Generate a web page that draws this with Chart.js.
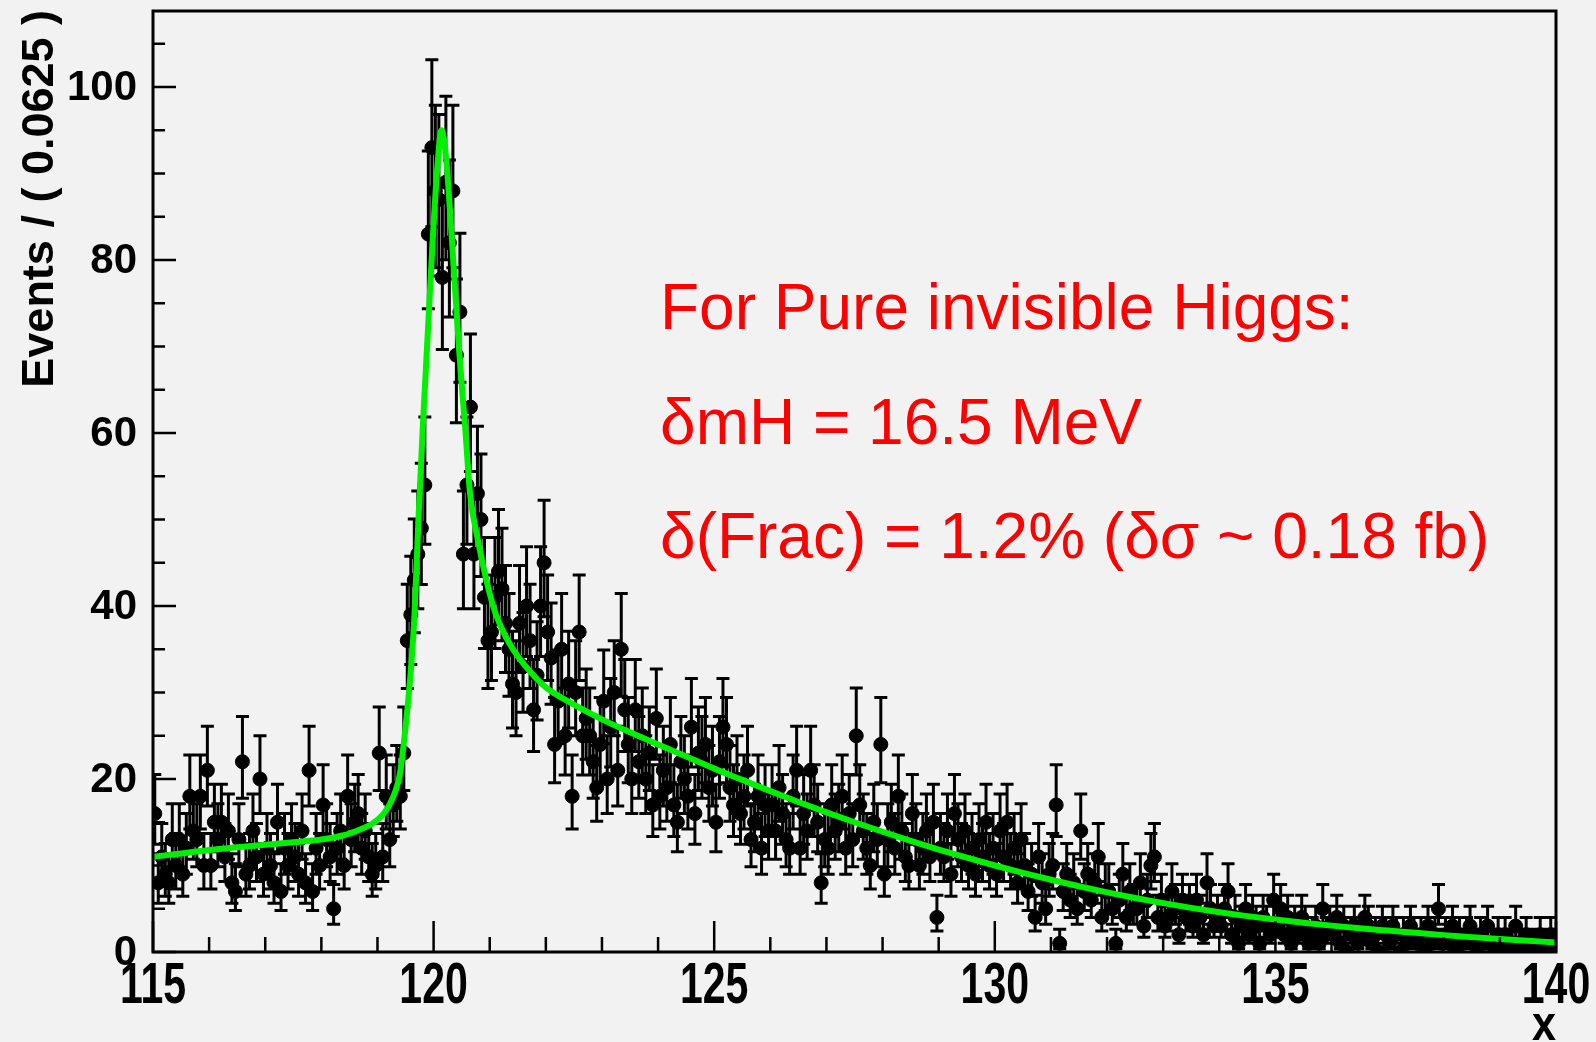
<!DOCTYPE html>
<html lang="en">
<head>
<meta charset="UTF-8">
<title>Events / ( 0.0625 ) vs x</title>
<script src="https://cdn.jsdelivr.net/npm/chart.js"></script>
<style>
  body { margin: 0; background: #f2f2f2; overflow: hidden; }
  canvas { display: block; }
</style>
</head>
<body>
<canvas id="plot" width="1596" height="1042"></canvas>
<script>
// axis ranges
const xMin = 115, xMax = 140;
const yMin = 0, yMax = 108.8;
const binWidth = 0.0625;

// events per bin, 400 bins from 115 to 140
const counts = [
  // 115-116
  16, 8, 11, 9, 8, 13, 10, 13, 9, 12, 18, 14, 13, 18, 10, 21,
  // 116-117
  10, 15, 13, 15, 11, 14, 8, 7, 13, 22, 9, 10, 14, 11, 20, 9,
  // 117-118
  12, 10, 8, 15, 7, 12, 10, 13, 11, 9, 14, 8, 21, 7, 12, 10,
  // 118-119
  17, 13, 11, 5, 12, 14, 10, 18, 13, 15, 16, 12, 14, 11, 9, 10,
  // 119-120
  23, 11, 18, 13, 17, 19, 18, 23, 36, 39, 43, 46, 49, 54, 83, 93,
  // 120-121
  88, 87, 78, 89, 82, 88, 69, 74, 46, 54, 63, 46, 53, 50, 41, 36,
  // 121-122
  37, 41, 44, 42, 38, 35, 31, 30, 38, 33, 40, 36, 28, 32, 40, 45,
  // 122-123
  37, 34, 24, 29, 35, 25, 31, 18, 30, 37, 25, 27, 25, 22, 19, 24,
  // 123-124
  29, 20, 26, 30, 21, 35, 28, 24, 20, 28, 22, 25, 20, 23, 17, 27,
  // 124-125
  18, 21, 19, 24, 17, 15, 22, 20, 18, 26, 16, 23, 22, 24, 19, 21,
  // 125-126
  15, 22, 26, 24, 19, 17, 20, 16, 18, 21, 13, 15, 18, 12, 17, 14,
  // 126-127
  17, 14, 19, 16, 13, 12, 18, 21, 12, 16, 14, 21, 17, 15, 8, 13,
  // 127-128
  12, 17, 14, 15, 18, 12, 16, 13, 25, 17, 14, 12, 10, 15, 13, 24,
  // 128-129
  9, 13, 15, 12, 18, 14, 11, 10, 16, 13, 10, 12, 14, 11, 15, 4,
  // 129-130
  12, 11, 14, 9, 16, 13, 11, 14, 10, 12, 9, 13, 11, 15, 10, 12,
  // 130-131
  9, 14, 11, 15, 10, 12, 8, 13, 10, 7, 9, 4, 11, 8, 5, 9,
  // 131-132
  10, 17, 1, 7, 9, 6, 8, 5, 14, 7, 9, 6, 8, 11, 4, 7,
  // 132-133
  7, 5, 1, 6, 9, 4, 7, 5, 5, 8, 3, 6, 10, 11, 4, 6,
  // 133-134
  3, 4, 7, 5, 2, 6, 4, 5, 3, 6, 4, 2, 8, 5, 3, 4,
  // 134-135
  3, 5, 7, 2, 4, 1, 3, 5, 2, 4, 3, 1, 4, 3, 2, 6,
  // 135-136
  3, 5, 2, 4, 1, 3, 2, 4, 3, 1, 2, 3, 1, 5, 2, 3,
  // 136-137
  2, 4, 1, 3, 0, 2, 3, 1, 2, 4, 3, 1, 2, 0, 3, 2,
  // 137-138
  1, 3, 2, 0, 2, 1, 3, 2, 1, 2, 0, 3, 1, 2, 5, 1,
  // 138-139
  2, 1, 3, 0, 2, 1, 2, 3, 1, 0, 2, 1, 3, 1, 0, 2,
  // 139-140
  1, 2, 0, 1, 3, 1, 0, 2, 1, 1, 0, 2, 1, 0, 2, 1
];

// fitted curve
const fitX = [115, 115.5, 116, 116.5, 117, 117.5, 118, 118.4, 118.7, 118.9, 119.1, 119.25, 119.4, 119.5, 119.6,
  119.66, 119.73, 119.81, 119.9, 119.99, 120.07, 120.14, 120.22, 120.32, 120.45, 120.57, 120.65, 120.79,
  121.06, 121.2, 121.35, 121.5, 121.75, 122, 122.5, 123, 123.5, 124, 124.5, 125, 125.5, 126, 126.5, 127,
  127.5, 128, 128.5, 129, 129.5, 130, 130.5, 131, 131.5, 132, 132.5, 133, 133.5, 134, 134.5, 135, 135.5,
  136, 136.5, 137, 137.5, 138, 138.5, 139, 139.5, 140];
const fitY = [11.0, 11.4, 11.8, 12.1, 12.4, 12.7, 13.0, 13.5, 14.2, 14.8, 15.9, 17.5, 20.6, 26, 33,
  39, 50, 61, 72, 83, 91, 95, 92, 83, 70, 60, 53, 47.6,
  40, 37.6, 35.7, 34.2, 32.2, 30.6, 28.6, 26.9, 25.4, 24.0, 22.6, 21.2, 19.9, 18.6, 17.35, 16.15,
  15.0, 13.9, 12.85, 11.85, 10.9, 10.0, 9.15, 8.35, 7.6, 6.9, 6.25, 5.65, 5.1, 4.6, 4.15, 3.75, 3.38,
  3.05, 2.75, 2.48, 2.22, 1.95, 1.72, 1.5, 1.3, 1.1];

// axis ticks and labels
const xMajorTicks = [115, 120, 125, 130, 135, 140];
const xTickLabels = ['115', '120', '125', '130', '135', '140'];
const xMinorTicks = [116, 117, 118, 119, 121, 122, 123, 124, 126, 127, 128, 129,
  131, 132, 133, 134, 136, 137, 138, 139];
const yMajorTicks = [0, 20, 40, 60, 80, 100];
const yTickLabels = ['0', '20', '40', '60', '80', '100'];
const yMinorTicks = [5, 10, 15, 25, 30, 35, 45, 50, 55, 65, 70, 75, 85, 90, 95, 105];

const yTitle = 'Events / ( 0.0625 )';
const xTitle = 'x';
const noteLines = ['For Pure invisible Higgs:', 'δmH = 16.5 MeV', 'δ(Frac) = 1.2% (δσ ~ 0.18 fb)'];

const binCenters = counts.map((c, i) => xMin + binWidth * (i + 0.5));
// approximate poisson intervals for the error bars
const errLow = counts.map(n => Math.max(0, n - Math.sqrt(n + 0.25) + 0.5));
const errHigh = counts.map(n => n + Math.sqrt(n + 0.25) + 0.5);

const FONT = '"Liberation Sans", Arial, Helvetica, sans-serif';
const capHalf = 6.5;

const rootStyle = {
    id: 'rootStyle',
    beforeDatasetsDraw(chart) {
        const { ctx, chartArea: a, scales: { x, y } } = chart;
        ctx.save();
        ctx.beginPath();
        ctx.rect(a.left, a.top - 2, a.right - a.left, a.bottom - a.top + 2);
        ctx.clip();
        ctx.strokeStyle = '#000';
        ctx.lineWidth = 3;
        ctx.beginPath();
        counts.forEach((n, i) => {
            const px = x.getPixelForValue(binCenters[i]);
            const lo = y.getPixelForValue(errLow[i]);
            const hi = y.getPixelForValue(errHigh[i]);
            ctx.moveTo(px, lo); ctx.lineTo(px, hi);
            ctx.moveTo(px - capHalf, lo); ctx.lineTo(px + capHalf, lo);
            ctx.moveTo(px - capHalf, hi); ctx.lineTo(px + capHalf, hi);
        });
        ctx.stroke();
        ctx.restore();
    },
    afterDraw(chart) {
        const { ctx, chartArea: a, scales: { x, y } } = chart;
        ctx.save();
        // frame
        ctx.strokeStyle = '#000';
        ctx.lineWidth = 3;
        ctx.strokeRect(a.left, a.top, a.right - a.left, a.bottom - a.top);

        // ticks inside the frame
        ctx.lineWidth = 2.5;
        ctx.beginPath();
        xMajorTicks.forEach(v => {
            const px = x.getPixelForValue(v);
            ctx.moveTo(px, a.bottom); ctx.lineTo(px, a.bottom - 31);
        });
        xMinorTicks.forEach(v => {
            const px = x.getPixelForValue(v);
            ctx.moveTo(px, a.bottom); ctx.lineTo(px, a.bottom - 15);
        });
        yMajorTicks.forEach(v => {
            const py = y.getPixelForValue(v);
            ctx.moveTo(a.left, py); ctx.lineTo(a.left + 23, py);
        });
        yMinorTicks.forEach(v => {
            const py = y.getPixelForValue(v);
            ctx.moveTo(a.left, py); ctx.lineTo(a.left + 12, py);
        });
        ctx.stroke();

        // y tick labels
        ctx.fillStyle = '#000';
        ctx.font = 'bold 42px ' + FONT;
        ctx.textAlign = 'right';
        ctx.textBaseline = 'middle';
        yMajorTicks.forEach((v, i) => {
            ctx.fillText(yTickLabels[i], 137, y.getPixelForValue(v) + 1);
        });

        // x tick labels (narrow)
        ctx.font = 'bold 57px ' + FONT;
        ctx.textAlign = 'center';
        ctx.textBaseline = 'alphabetic';
        xMajorTicks.forEach((v, i) => {
            ctx.save();
            ctx.translate(x.getPixelForValue(v), 1003);
            ctx.scale(0.72, 1);
            ctx.fillText(xTickLabels[i], 0, 0);
            ctx.restore();
        });

        // x title
        ctx.save();
        ctx.font = 'bold 48px ' + FONT;
        ctx.textAlign = 'right';
        ctx.translate(a.right, 1040);
        ctx.scale(0.9, 1);
        ctx.fillText(xTitle, 0, 0);
        ctx.restore();

        // y title
        ctx.save();
        ctx.font = 'bold 45px ' + FONT;
        ctx.textAlign = 'right';
        ctx.textBaseline = 'alphabetic';
        ctx.translate(53, 10);
        ctx.rotate(-Math.PI / 2);
        ctx.fillText(yTitle, 0, 0);
        ctx.restore();

        // red annotation
        ctx.fillStyle = '#ff0000';
        ctx.font = '64px ' + FONT;
        ctx.textAlign = 'left';
        ctx.textBaseline = 'alphabetic';
        const baselines = [329, 444, 558];
        noteLines.forEach((t, i) => ctx.fillText(t, 660, baselines[i]));
        ctx.restore();
    }
};

new Chart(document.getElementById('plot'), {
    type: 'scatter',
    data: {
        datasets: [
            {
                label: 'fit',
                type: 'line',
                data: fitX.map((v, i) => ({ x: v, y: fitY[i] })),
                borderColor: '#00f000',
                borderWidth: 6,
                pointRadius: 0,
                cubicInterpolationMode: 'monotone',
                fill: false,
                order: 0
            },
            {
                label: 'data',
                data: binCenters.map((v, i) => ({ x: v, y: counts[i] })),
                backgroundColor: '#000',
                borderColor: '#000',
                pointRadius: 7,
                pointHoverRadius: 7,
                showLine: false,
                order: 1
            }
        ]
    },
    options: {
        responsive: false,
        animation: false,
        layout: { padding: { left: 153, right: 40, top: 11, bottom: 90 } },
        plugins: { legend: { display: false }, tooltip: { enabled: false } },
        scales: {
            x: { type: 'linear', min: xMin, max: xMax, display: false },
            y: { type: 'linear', min: yMin, max: yMax, display: false }
        }
    },
    plugins: [rootStyle]
});
</script>
</body>
</html>
